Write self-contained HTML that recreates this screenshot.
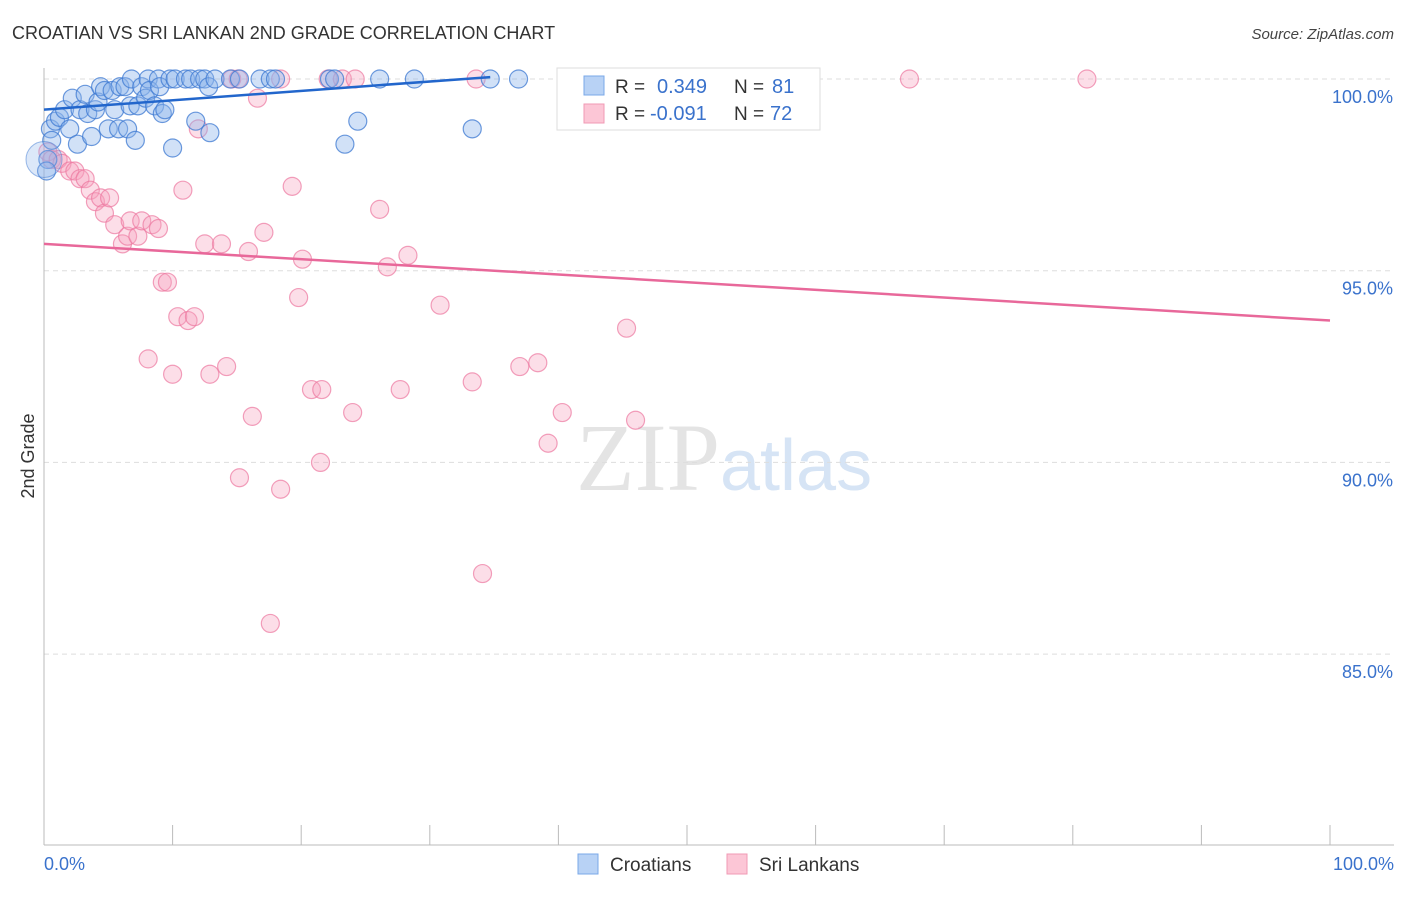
<!DOCTYPE html>
<html><head><meta charset="utf-8"><style>
body{margin:0;background:#fff;font-family:"Liberation Sans",sans-serif;}
</style></head><body>
<svg id="chart" width="1406" height="892" xmlns="http://www.w3.org/2000/svg" font-family="Liberation Sans, sans-serif">
<text x="12" y="39" font-size="18" fill="#333">CROATIAN VS SRI LANKAN 2ND GRADE CORRELATION CHART</text>
<text x="1394" y="39" font-size="15" fill="#444" text-anchor="end" font-style="italic">Source: ZipAtlas.com</text>
<text x="720" y="490" font-size="96" fill="#e4e4e4" text-anchor="end" font-family="Liberation Serif, serif">ZIP</text>
<text x="720" y="490" font-size="72" fill="#d6e4f5">atlas</text>
<g id="grid"></g>
<g id="marks"></g>
<text transform="translate(34,456) rotate(-90)" font-size="18" fill="#333" text-anchor="middle">2nd Grade</text>
<g>
<rect x="557" y="68" width="263" height="62" fill="#fff" stroke="#ddd"/>
<rect x="584" y="76" width="20" height="19" fill="#b8d2f5" stroke="#7aa8e8"/>
<rect x="584" y="104" width="20" height="19" fill="#fcc6d6" stroke="#f09ab4"/>
<text x="615" y="93" font-size="19" fill="#333">R = </text><text x="657" y="93" font-size="20" fill="#3a72cc">0.349</text>
<text x="734" y="93" font-size="19" fill="#333">N = </text><text x="772" y="93" font-size="20" fill="#3a72cc">81</text>
<text x="615" y="120" font-size="19" fill="#333">R = </text><text x="650" y="120" font-size="20" fill="#3a72cc">-0.091</text>
<text x="734" y="120" font-size="19" fill="#333">N = </text><text x="770" y="120" font-size="20" fill="#3a72cc">72</text>
</g>
<g>
<rect x="578" y="854" width="20" height="20" fill="#b8d2f5" stroke="#7aa8e8"/>
<text x="610" y="871" font-size="19" fill="#333">Croatians</text>
<rect x="727" y="854" width="20" height="20" fill="#fcc6d6" stroke="#f09ab4"/>
<text x="759" y="871" font-size="19" fill="#333">Sri Lankans</text>
</g>
</svg>
<script>
const yTicks=[100,95,90,85];
const yTickLabels=["100.0%","95.0%","90.0%","85.0%"];
const xTickLabels=["0.0%","100.0%"];
const croX=[0.5,0.9,1.2,0.6,1.6,2.0,2.2,2.6,2.8,3.2,3.4,3.7,4.0,4.2,4.4,4.7,5.0,5.3,5.5,5.8,5.9,6.3,6.5,6.7,6.8,7.1,7.3,7.6,7.9,8.1,8.2,8.6,8.9,9.0,9.2,9.4,9.8,10.0,10.2,11.0,11.4,11.8,12.1,12.5,12.8,12.9,13.3,14.5,15.2,16.8,17.6,18.0,22.2,22.6,23.4,24.4,26.1,28.8,33.3,34.7,36.9,0.3,0.2];
const croY=[98.7,98.9,99.0,98.4,99.2,98.7,99.5,98.3,99.2,99.6,99.1,98.5,99.2,99.4,99.8,99.7,98.7,99.7,99.2,98.7,99.8,99.8,98.7,99.3,100,98.4,99.3,99.8,99.5,100,99.7,99.3,100,99.8,99.1,99.2,100,98.2,100,100,100,98.9,100,100,99.8,98.6,100,100,100,100,100,100,100,100,98.3,98.9,100,100,98.7,100,100,97.9,97.6];
const sriX=[0.3,0.6,1.1,1.4,2.0,2.4,2.8,3.2,3.6,4.0,4.4,4.7,5.1,5.5,6.1,6.5,6.7,7.3,7.6,8.4,8.9,9.2,9.6,8.1,10.0,10.4,10.8,11.2,11.7,12.0,12.5,12.9,13.8,14.2,14.6,15.1,15.9,16.2,16.6,15.2,17.1,17.6,18.4,18.4,19.3,19.8,20.1,20.8,21.6,21.5,22.1,23.2,24.2,24.0,26.1,26.7,27.7,28.3,30.8,33.3,33.6,34.1,37.0,38.4,39.2,40.3,45.3,46.0,67.3,81.1,41.7];
const sriY=[98.1,97.9,97.9,97.8,97.6,97.6,97.4,97.4,97.1,96.8,96.9,96.5,96.9,96.2,95.7,95.9,96.3,95.9,96.3,96.2,96.1,94.7,94.7,92.7,92.3,93.8,97.1,93.7,93.8,98.7,95.7,92.3,95.7,92.5,100,100,95.5,91.2,99.5,89.6,96.0,85.8,100,89.3,97.2,94.3,95.3,91.9,91.9,90.0,100,100,100,91.3,96.6,95.1,91.9,95.4,94.1,92.1,100,87.1,92.5,92.6,90.5,91.3,93.5,91.1,100,100,100];
const croTrend=[[0,99.2],[34.7,100.05]];
const sriTrend=[[0,95.7],[100,93.7]];
const X=v=>44+v*12.86, Y=v=>79+(100-v)*38.34;
const NS="http://www.w3.org/2000/svg";
const grid=document.getElementById('grid'), marks=document.getElementById('marks');
function mk(tag,attrs,parent){const e=document.createElementNS(NS,tag);for(const k in attrs)e.setAttribute(k,attrs[k]);parent.appendChild(e);return e;}
yTicks.forEach((t,i)=>{
 const l=mk('line',{x1:44,x2:1394,y1:Y(t),y2:Y(t),stroke:'#ddd','stroke-dasharray':'5,4'},grid);
 
 
 const tx=mk('text',{x:1393,y:Y(t)+24,'font-size':18,fill:'#3a72cc','text-anchor':'end'},grid);
 tx.textContent=yTickLabels[i];
 
 
});
const ax=mk('line',{x1:44,x2:44,y1:68,y2:845,stroke:'#bbb'},grid);


const bx=mk('line',{x1:44,x2:1394,y1:845,y2:845,stroke:'#bbb'},grid);


for(let i=0;i<=10;i++){
 const t=mk('line',{x1:X(i*10),x2:X(i*10),y1:825,y2:845,stroke:'#bbb'},grid);
 
 
}
[[0,'start',44],[100,'end',1394]].forEach((d,i)=>{
 const tx=mk('text',{x:d[2],y:870,'font-size':18,fill:'#3a72cc','text-anchor':d[1]},grid);
 tx.textContent=xTickLabels[i];
 
 
});
sriX.forEach((x,i)=>{
 const c=mk('circle',{cx:X(x),cy:Y(sriY[i]),r:9,fill:'rgba(246,160,190,0.35)',stroke:'rgba(236,120,160,0.7)','stroke-width':1.2},marks);
 
 
});
croX.forEach((x,i)=>{
 const c=mk('circle',{cx:X(x),cy:Y(croY[i]),r:9,fill:'rgba(140,180,235,0.4)',stroke:'rgba(60,120,210,0.75)','stroke-width':1.2},marks);
 
 
});
const big=mk('circle',{cx:X(0),cy:Y(97.9),r:18,fill:'rgba(140,180,235,0.3)',stroke:'rgba(60,120,210,0.5)'},marks);


const l1=mk('line',{x1:X(croTrend[0][0]),y1:Y(croTrend[0][1]),x2:X(croTrend[1][0]),y2:Y(croTrend[1][1]),stroke:'#2266cc','stroke-width':2.5},marks);


const l2=mk('line',{x1:X(sriTrend[0][0]),y1:Y(sriTrend[0][1]),x2:X(sriTrend[1][0]),y2:Y(sriTrend[1][1]),stroke:'#e8689a','stroke-width':2.5},marks);


</script>
</body></html>
